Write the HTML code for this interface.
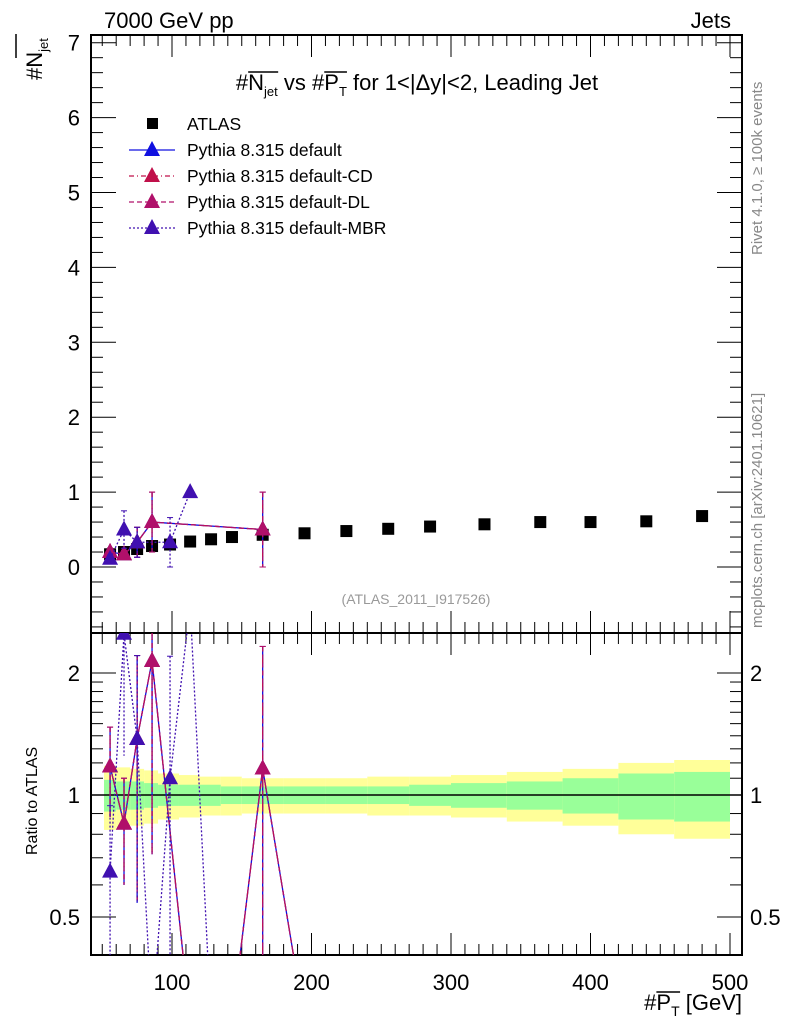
<!DOCTYPE html>
<html><head><meta charset="utf-8">
<style>
html,body{margin:0;background:#fff;width:786px;height:1024px;overflow:hidden;position:relative;}
svg{display:block;}
svg text{font-family:"Liberation Sans",sans-serif;}
</style></head>
<body>
<svg id="c" width="786" height="1024" style="position:absolute;left:0;top:0" xmlns="http://www.w3.org/2000/svg">
<defs><clipPath id="rclip"><rect x="91" y="633" width="651" height="322"/></clipPath>
<clipPath id="mclip"><rect x="91" y="35" width="651" height="598"/></clipPath></defs>
</svg>
<svg id="lab" width="786" height="1024" style="position:absolute;left:0;top:0" xmlns="http://www.w3.org/2000/svg">
<text x="104" y="28" font-size="22">7000 GeV pp</text>
<text x="731" y="28" font-size="22" text-anchor="end">Jets</text>
<text x="417" y="90" font-size="22" text-anchor="middle">#<tspan id="o1">N</tspan><tspan id="o1b" font-size="13" dy="6">jet</tspan><tspan dy="-6"> vs #</tspan><tspan id="o2">P</tspan><tspan id="o2b" font-size="13" dy="6">T</tspan><tspan dy="-6"> for 1&lt;|Δy|&lt;2, Leading Jet</tspan></text>
<text transform="translate(42,80) rotate(-90)" font-size="22">#N<tspan font-size="13" dy="6">jet</tspan></text>
<line x1="16" y1="58" x2="16" y2="34" stroke="#000" stroke-width="1.5"/>
<text transform="translate(37,855) rotate(-90)" font-size="16">Ratio to ATLAS</text>
<text x="742" y="1010" font-size="22" text-anchor="end">#<tspan id="o3">P</tspan><tspan id="o3b" font-size="14" dy="6">T</tspan><tspan dy="-6"> [GeV]</tspan></text>
<text x="416" y="604" font-size="14" fill="#999" text-anchor="middle">(ATLAS_2011_I917526)</text>
<text transform="translate(762,255) rotate(-90)" font-size="15" fill="#888">Rivet 4.1.0, ≥ 100k events</text>
<text transform="translate(762,628) rotate(-90)" font-size="15" fill="#888">mcplots.cern.ch [arXiv:2401.10621]</text>
</svg>
<script>
const xCats=[55.6,65.6,75,85.7,98.6,113,128,143,165,195,225,255,285,324,364,400,440,480];
const atlasVals=[0.17,0.2,0.24,0.28,0.3,0.34,0.37,0.4,0.43,0.45,0.48,0.51,0.54,0.57,0.6,0.6,0.61,0.68];
const binEdges=[50,60,70,80,90,105,120,135,150,180,210,240,270,300,340,380,420,460,500];
const bandYellow=[0.18,0.17,0.16,0.15,0.13,0.12,0.11,0.11,0.1,0.1,0.1,0.11,0.11,0.12,0.14,0.16,0.2,0.22];
const bandGreen=[0.09,0.08,0.08,0.07,0.06,0.06,0.06,0.05,0.05,0.05,0.05,0.05,0.06,0.07,0.08,0.1,0.13,0.14];
const mcX=[55.6,65.6,75,85.7,98.6,113,128,143,165,195];
const defVals=[0.2,0.17,0.33,0.6,null,0,null,0,0.5,0];
const defErr=[0.05,0.05,0.2,0.4,0,0,0,0,0.5,0];
const cdVals=[0.2,0.17,0.33,0.6,null,0,null,0,0.5,0];
const dlVals=[0.2,0.17,0.33,0.6,null,0,null,0,0.5,0];
const mbrVals=[0.11,0.5,0.33,0,0.33,1.0,0,0,null,null];
const mbrErr=[0.05,0.25,0.2,0,0.33,0,0,0,0,0];
const yTicks=[0,1,2,3,4,5,6,7];
const xTicks=[100,200,300,400,500];
const rTicks=[0.5,1,2];

const NS="http://www.w3.org/2000/svg";
const svg=document.getElementById('c');
const L=91,R=742,T=35,MB=633,RB=955;
const X=v=>32.5+1.395*v;
const Y=v=>567-74.9*v;
const RY=r=>r>0?795-122*Math.log2(r):1022;
function el(tag,attrs,parent){const e=document.createElementNS(NS,tag);for(const k in attrs)e.setAttribute(k,attrs[k]);(parent||svg).appendChild(e);return e;}
function txt(s,x,y,attrs,parent){const t=el('text',Object.assign({x:x,y:y,'font-size':20},attrs||{}),parent);t.textContent=s;return t;}

const bands=el('g',{});


for(let i=0;i<bandYellow.length;i++){
  const x0=Math.max(X(binEdges[i]),L+13),x1=X(binEdges[i+1]);
  const r=el('rect',{x:x0,y:RY(1+bandYellow[i]),width:x1-x0,height:RY(1-bandYellow[i])-RY(1+bandYellow[i]),fill:'#ffff99'},bands);
  
  
  const g=el('rect',{x:x0,y:RY(1+bandGreen[i]),width:x1-x0,height:RY(1-bandGreen[i])-RY(1+bandGreen[i]),fill:'#99ff99'},bands);
  
  
}
el('line',{x1:L,x2:R,y1:RY(1),y2:RY(1),stroke:'#000','stroke-width':1.5});

const f1=el('rect',{x:L,y:T,width:R-L,height:MB-T,fill:'none',stroke:'#000','stroke-width':2});


const f2=el('rect',{x:L,y:MB,width:R-L,height:RB-MB,fill:'none',stroke:'#000','stroke-width':2});



for(let v=50;v<=500;v+=10){
  const maj=v%100===0,len=maj?22:11;
  [[T,1],[MB,-1],[MB,1],[RB,-1]].forEach(([y0,d])=>el('line',{x1:X(v),x2:X(v),y1:y0,y2:y0+d*len,stroke:'#000','stroke-width':1}));
}
xTicks.forEach(v=>{const t=txt(String(v),X(v),990,{'text-anchor':'middle','font-size':22});});
for(let v=-0.8;v<=7.01;v+=0.2){
  const maj=Math.abs(v-Math.round(v))<0.01,len=maj?25:12;
  el('line',{x1:L,x2:L+len,y1:Y(v),y2:Y(v),stroke:'#000'});
  el('line',{x1:R,x2:R-len,y1:Y(v),y2:Y(v),stroke:'#000'});
}
yTicks.forEach(v=>{const t=txt(String(v),80,Y(v)+8,{'text-anchor':'end','font-size':22});});
[0.4,0.5,0.6,0.7,0.8,0.9,1,1.1,1.2,1.3,1.4,1.5,1.6,1.7,1.8,1.9,2].forEach(r=>{
  const maj=rTicks.includes(r),len=maj?25:12;const y=RY(r);if(y<MB||y>RB)return;
  el('line',{x1:L,x2:L+len,y1:y,y2:y,stroke:'#000'});
  el('line',{x1:R,x2:R-len,y1:y,y2:y,stroke:'#000'});
});
rTicks.forEach(r=>{
  const a=txt(String(r),80,RY(r)+8,{'text-anchor':'end','font-size':22});
  const b=txt(String(r),750,RY(r)+8,{'font-size':22});
});

atlasVals.forEach((v,i)=>{
  const r=el('rect',{x:X(xCats[i])-6,y:Y(v)-6,width:12,height:12,fill:'#000'});
  
  
});

function tri(x,y,c,parent){return el('polygon',{points:`${x},${y-9} ${x-8},${y+6} ${x+8},${y+6}`,fill:c},parent);}
function series(name,vals,errs,color,dash,width){
  const g=el('g',{});
  
  
  const gm=el('g',{'clip-path':'url(#mclip)'},g);
  const gr=el('g',{'clip-path':'url(#rclip)'},g);
  const pts=[];vals.forEach((v,i)=>{if(v>0)pts.push(X(mcX[i])+','+Y(v));});
  el('polyline',{points:pts.join(' '),fill:'none',stroke:color,'stroke-width':width,'stroke-dasharray':dash},gm);
  const rp=[];vals.forEach((v,i)=>{if(v!==null)rp.push(X(mcX[i])+','+RY(v/atlasVals[i]));});
  el('polyline',{points:rp.join(' '),fill:'none',stroke:color,'stroke-width':width,'stroke-dasharray':dash},gr);
  vals.forEach((v,i)=>{
    if(!(v>0))return;const x=X(mcX[i]);
    const e=errs?errs[i]:0;
    if(e>0){
      el('line',{x1:x,x2:x,y1:Y(v+e),y2:Y(Math.max(v-e,-0.9)),stroke:color,'stroke-width':1.3,'stroke-dasharray':dash},gm);
      el('line',{x1:x-3,x2:x+3,y1:Y(v+e),y2:Y(v+e),stroke:color},gm);
      el('line',{x1:x-3,x2:x+3,y1:Y(v-e),y2:Y(v-e),stroke:color},gm);
      const ru=RY((v+e)/atlasVals[i]),rd=RY((v-e)/atlasVals[i]);
      el('line',{x1:x,x2:x,y1:ru,y2:rd,stroke:color,'stroke-width':1.3,'stroke-dasharray':dash},gr);
      el('line',{x1:x-3,x2:x+3,y1:ru,y2:ru,stroke:color},gr);
    }
    tri(x,Y(v),color,gm);
    tri(x,RY(v/atlasVals[i]),color,gr);
  });
}
series('series-default',defVals,defErr,'#1010e0','',1.3);
series('series-default-cd',cdVals,defErr,'#c0104a','5,3,1,3',1.3);
series('series-default-dl',dlVals,defErr,'#b0106a','5,3',1.3);
series('series-default-mbr',mbrVals,mbrErr,'#4010b0','2,2',1.3);

const leg=el('g',{});


el('rect',{x:147,y:118,width:11,height:11,fill:'#000'},leg);
txt('ATLAS',187,130,{'font-size':17.5},leg);
const legItems=[['Pythia 8.315 default','#1010e0',''],['Pythia 8.315 default-CD','#c0104a','5,3,1,3'],['Pythia 8.315 default-DL','#b0106a','5,3'],['Pythia 8.315 default-MBR','#4010b0','2,2']];
legItems.forEach((it,i)=>{
  const y=150+i*26;
  el('line',{x1:129,x2:175,y1:y,y2:y,stroke:it[1],'stroke-width':1.3,'stroke-dasharray':it[2]},leg);
  tri(152,y,it[1],leg);
  const t=txt(it[0],187,y+6,{'font-size':17.5},leg);
  
  
});

// overlines for title / axis title
const lab=document.getElementById('lab');
[['o1','o1b'],['o2','o2b'],['o3','o3b']].forEach(([a,b])=>{
  const ra=document.getElementById(a).getBoundingClientRect(),rb=document.getElementById(b).getBoundingClientRect();
  const y=ra.top+2;
  const ln=document.createElementNS(NS,'line');
  ln.setAttribute('x1',ra.left);ln.setAttribute('x2',rb.right);ln.setAttribute('y1',y);ln.setAttribute('y2',y);
  ln.setAttribute('stroke','#000');ln.setAttribute('stroke-width','1.5');
  lab.appendChild(ln);
});
</script>
</body></html>
